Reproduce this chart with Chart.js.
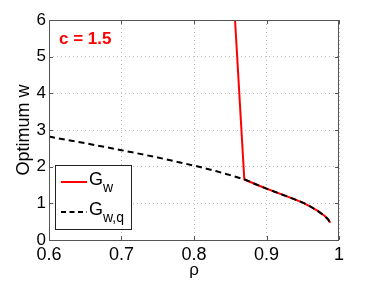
<!DOCTYPE html>
<html>
<head>
<meta charset="utf-8">
<script src="https://cdn.jsdelivr.net/npm/chart.js@4"></script>
<style>
  html, body { margin: 0; padding: 0; background: #fff; }
  #wrap { width: 374px; height: 281px; }
</style>
</head>
<body>
<div id="wrap"><canvas id="chart" width="374" height="281"></canvas></div>
<script>
// G_w,q (dashed black)
const rhoQ = [0.6, 0.65, 0.7, 0.75, 0.8, 0.83, 0.85, 0.87, 0.89, 0.9, 0.92, 0.94, 0.95, 0.96, 0.97, 0.98, 0.985, 0.988];
const wQ   = [2.82, 2.64, 2.45, 2.25, 2.03, 1.88, 1.77, 1.65, 1.48, 1.40, 1.25, 1.10, 1.02, 0.92, 0.80, 0.66, 0.56, 0.47];
// G_w (red)
const rhoW = [0.8566, 0.8694, 0.89, 0.9, 0.92, 0.94, 0.95, 0.96, 0.97, 0.98, 0.985, 0.988];
const wW   = [6.0, 1.65, 1.48, 1.40, 1.25, 1.10, 1.02, 0.92, 0.80, 0.66, 0.56, 0.47];
const xTicks = [0.6, 0.7, 0.8, 0.9, 1];
const yTicks = [0, 1, 2, 3, 4, 5, 6];

const FONT = 'Liberation Sans, Arial, Helvetica, sans-serif';

const toPts = (xs, ys) => xs.map((x, i) => ({ x: x, y: ys[i] }));

// frame, annotation, legend with subscripts
const extras = {
    id: 'extras',
    afterDraw(chart) {
        const ctx = chart.ctx;
        const a = chart.chartArea;
        ctx.save();
        // box
        ctx.strokeStyle = '#555';
        ctx.lineWidth = 1;
        ctx.strokeRect(a.left + 0.5, a.top + 0.5, a.right - a.left - 1, a.bottom - a.top);
        // inward ticks
        const xs = chart.scales.x, ys = chart.scales.y;
        ctx.beginPath();
        xTicks.forEach(t => {
            const px = Math.round(xs.getPixelForValue(t)) + 0.5;
            ctx.moveTo(px, a.bottom); ctx.lineTo(px, a.bottom - 4);
            ctx.moveTo(px, a.top); ctx.lineTo(px, a.top + 4);
        });
        yTicks.forEach(t => {
            const py = Math.round(ys.getPixelForValue(t)) + 0.5;
            ctx.moveTo(a.left, py); ctx.lineTo(a.left + 4, py);
            ctx.moveTo(a.right, py); ctx.lineTo(a.right - 4, py);
        });
        ctx.stroke();

        // c = 1.5
        ctx.fillStyle = '#ff0000';
        ctx.font = 'bold 17px ' + FONT;
        ctx.textBaseline = 'alphabetic';
        ctx.fillText('c = 1.5', 59, 44);

        // legend
        const lx = 55.5, ly = 165.5, lw = 76, lh = 64;
        ctx.fillStyle = '#fff';
        ctx.fillRect(lx, ly, lw, lh);
        ctx.strokeStyle = '#222';
        ctx.strokeRect(lx, ly, lw, lh);

        ctx.lineWidth = 2;
        ctx.strokeStyle = '#ff0000';
        ctx.beginPath(); ctx.moveTo(61, 182); ctx.lineTo(87, 182); ctx.stroke();
        ctx.strokeStyle = '#000';
        ctx.setLineDash([5, 3.5]);
        ctx.beginPath(); ctx.moveTo(61, 212); ctx.lineTo(87, 212); ctx.stroke();
        ctx.setLineDash([]);

        ctx.fillStyle = '#000';
        ctx.font = '18px ' + FONT;
        ctx.fillText('G', 89, 185);
        ctx.fillText('G', 89, 215);
        ctx.font = '14px ' + FONT;
        ctx.fillText('w', 103, 192);
        ctx.fillText('w,q', 103, 222);
        ctx.restore();
    }
};

new Chart(document.getElementById('chart'), {
    type: 'line',
    data: {
        datasets: [
            {
                label: 'G_w,q',
                data: toPts(rhoQ, wQ),
                borderColor: '#000',
                borderWidth: 2,
                borderDash: [6, 4],
                pointRadius: 0,
                tension: 0,
                fill: false
            },
            {
                label: 'G_w',
                data: toPts(rhoW, wW),
                borderColor: '#ff0000',
                borderWidth: 2,
                pointRadius: 0,
                tension: 0,
                fill: false
            }
        ]
    },
    options: {
        responsive: false,
        animation: false,
        layout: { padding: { top: 20, right: 35, left: 0, bottom: 0 } },
        plugins: { legend: { display: false }, tooltip: { enabled: false } },
        scales: {
            x: {
                type: 'linear',
                min: 0.6, max: 1,
                afterFit: s => { s.height = 41; },
                afterBuildTicks: s => { s.ticks = xTicks.map(v => ({ value: v })); },
                grid: { color: '#bdbdbd', lineWidth: 1, drawTicks: false },
                border: { display: false, dash: [1, 3] },
                ticks: {
                    color: '#000', padding: 4,
                    font: { family: FONT, size: 18 },
                    callback: v => String(v)
                },
                title: {
                    display: true, text: 'ρ', color: '#000',
                    font: { family: FONT, size: 17 }, padding: { top: 0, bottom: 0 }
                }
            },
            y: {
                min: 0, max: 6,
                afterFit: s => { s.width = 49; },
                afterBuildTicks: s => { s.ticks = yTicks.map(v => ({ value: v })); },
                grid: { color: '#bdbdbd', lineWidth: 1, drawTicks: false },
                border: { display: false, dash: [1, 3] },
                ticks: {
                    color: '#000', padding: 3,
                    font: { family: FONT, size: 17 }
                },
                title: {
                    display: true, text: 'Optimum w', color: '#000',
                    font: { family: FONT, size: 18 }, padding: { top: 13, bottom: 0 }
                }
            }
        }
    },
    plugins: [extras]
});
</script>
</body>
</html>
